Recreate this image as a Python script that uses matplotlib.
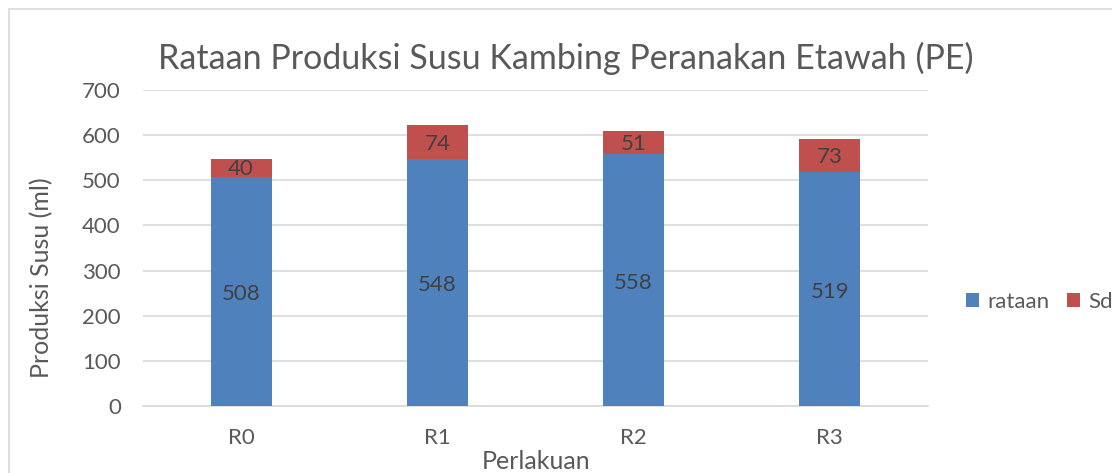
import matplotlib.pyplot as plt
from matplotlib.patches import Rectangle
import numpy as np

perlakuan = ['R0', 'R1', 'R2', 'R3']
rataan = [508, 548, 558, 519]
sd = [40, 74, 51, 73]

plt.rcParams['font.family'] = ['Lato', 'DejaVu Sans']
teks = '#595959'

W, H = 1112, 473
fig = plt.figure(figsize=(W / 100, H / 100), dpi=100)
# plot area in pixels: x 143..928, y 90..406
ax = fig.add_axes([143 / W, 1 - 406 / H, (928 - 143) / W, (406 - 90) / H])

# chart border (cropped on right and bottom)
fig.patches.append(Rectangle((9 / W, -0.05), 1.2, 1 - 9 / H + 0.05, transform=fig.transFigure,
                             fill=False, edgecolor='#D9D9D9', linewidth=1.2))

x = np.arange(len(perlakuan))
b1 = ax.bar(x, rataan, width=0.31, color='#4F81BD', label='rataan', zorder=3)
b2 = ax.bar(x, sd, width=0.31, bottom=rataan, color='#C0504D', label='Sd', zorder=3)

for i in range(len(x)):
    ax.text(x[i], rataan[i] / 2 - 6, str(rataan[i]), ha='center', va='center', fontsize=16, color='#404040', zorder=4)
    ax.text(x[i], rataan[i] + sd[i] / 2 - 4, str(sd[i]), ha='center', va='center', fontsize=16, color='#404040', zorder=4)

ax.set_xlim(-0.5, 3.5)
ax.set_ylim(0, 700)
ax.set_yticks(range(0, 701, 100))
ax.set_xticks(x)
ax.set_xticklabels(perlakuan)
ax.yaxis.grid(True, color='#D9D9D9', linewidth=1.2, zorder=0)
for s in ['top', 'right', 'left']:
    ax.spines[s].set_visible(False)
ax.spines['bottom'].set_color('#D9D9D9')
ax.spines['bottom'].set_linewidth(1.2)
ax.tick_params(axis='both', length=0, labelsize=16, colors=teks)
ax.tick_params(axis='y', pad=16)
ax.tick_params(axis='x', pad=16)

fig.text(566 / W, 1 - 58 / H, 'Rataan Produksi Susu Kambing Peranakan Etawah (PE)',
         ha='center', va='center', fontsize=24.5, color=teks)
fig.text(42 / W, 1 - 278 / H, 'Produksi Susu (ml)', rotation=90, ha='center', va='center',
         fontsize=18, color=teks)
fig.text(536 / W, 1 - 461 / H, 'Perlakuan', ha='center', va='center', fontsize=18, color=teks)

fig.legend(handles=[b1, b2], loc='center left', bbox_to_anchor=(966 / W, 1 - 302 / H),
           ncol=2, frameon=False, fontsize=16, handlelength=0.6, handleheight=0.6,
           borderpad=0, borderaxespad=0, handletextpad=0.35, columnspacing=0.8,
           labelcolor=teks)

plt.savefig('out.png', dpi=100)
